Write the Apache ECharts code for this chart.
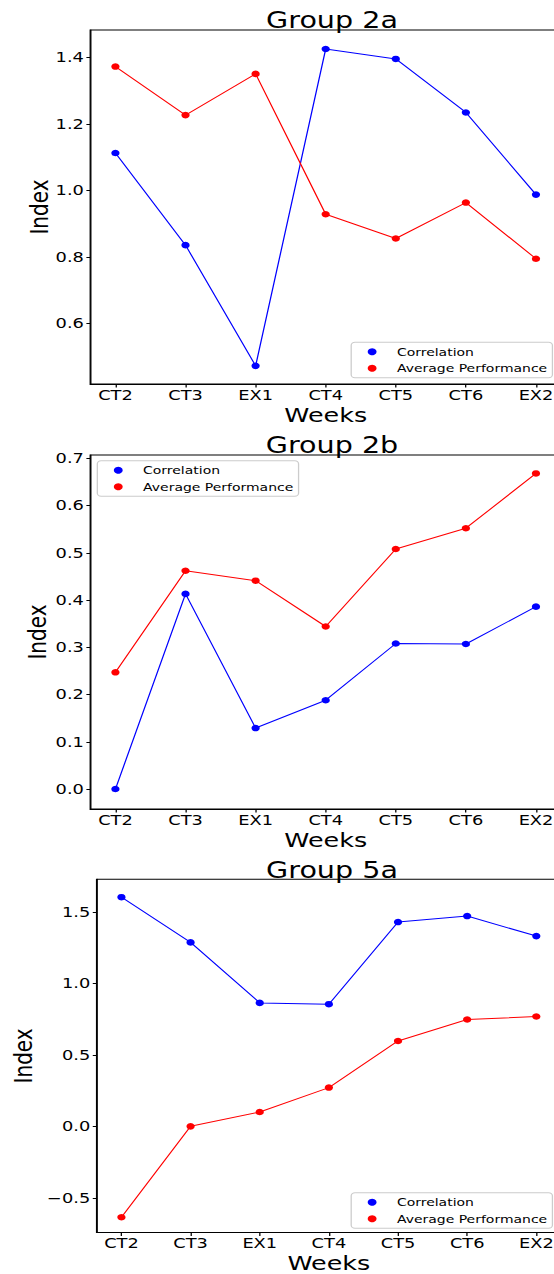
<!DOCTYPE html>
<html>
<head>
<meta charset="utf-8">
<script src="https://cdn.jsdelivr.net/npm/echarts@6/dist/echarts.min.js"></script>
<style>
  html, body { margin: 0; padding: 0; background: #fff; overflow: hidden; }
  #wrap { width: 554px; height: 1274px; overflow: hidden; position: relative; }
  #chart { width: 460px; height: 1274px; transform: scaleX(1.2706); transform-origin: 0 0; }
</style>
</head>
<body>
<div id="wrap"><div id="chart"></div></div>
<script>
const categories = ['CT2', 'CT3', 'EX1', 'CT4', 'CT5', 'CT6', 'EX2'];
const titles = ['Group 2a', 'Group 2b', 'Group 5a'];

const corr2a = [1.112, 0.835, 0.472, 1.425, 1.395, 1.234, 0.987];
const avg2a  = [1.372, 1.226, 1.350, 0.928, 0.855, 0.963, 0.794];
const corr2b = [0.000, 0.413, 0.129, 0.188, 0.308, 0.307, 0.386];
const avg2b  = [0.247, 0.462, 0.441, 0.344, 0.508, 0.552, 0.668];
const corr5a = [1.602, 1.286, 0.863, 0.854, 1.428, 1.470, 1.330];
const avg5a  = [-0.635, 0.000, 0.100, 0.271, 0.597, 0.747, 0.768];

const yTicks2a = [0.6, 0.8, 1.0, 1.2, 1.4];
const yTicks2b = [0.0, 0.1, 0.2, 0.3, 0.4, 0.5, 0.6, 0.7];
const yTicks5a = [-0.5, 0.0, 0.5, 1.0, 1.5];

const panels = [
  { title: titles[0], corr: corr2a, avg: avg2a, ticks: yTicks2a, ymin: 0.4174, ymax: 1.482, top: 30, nameGap: 30, legendTop: 342.3, legendLeft: 276.4 },
  { title: titles[1], corr: corr2b, avg: avg2b, ticks: yTicks2b, ymin: -0.0423, ymax: 0.707, top: 455, nameGap: 32, legendTop: 460.7, legendLeft: 76.6 },
  { title: titles[2], corr: corr5a, avg: avg5a, ticks: yTicks5a, ymin: -0.742, ymax: 1.727, top: 879.3, nameGap: 48, legendTop: 1192.7, legendLeft: 276.4 }
];

const FONT = 'DejaVu Sans';
const GRID_LEFT = 71;
const GRID_RIGHT = 18.3;
const GRID_H = 354;
const catIdx = categories.map((_, i) => i);

const option = {
  animation: false,
  backgroundColor: '#ffffff',
  title: panels.map(p => ({
    text: p.title,
    left: 256.3,
    textAlign: 'center',
    top: p.top - 26,
    textStyle: { fontFamily: FONT, fontSize: 22.5, fontWeight: 'normal', color: '#000' }
  })),
  legend: panels.map(p => ({
    data: ['Correlation', 'Average Performance'],
    orient: 'vertical',
    left: p.legendLeft,
    top: p.legendTop,
    icon: 'circle',
    itemWidth: 7,
    itemHeight: 7,
    itemGap: 5.5,
    padding: [4, 4, 4, 13],
    borderColor: '#cccccc',
    borderWidth: 1,
    borderRadius: 3,
    backgroundColor: 'rgba(255,255,255,0.8)',
    selectedMode: false,
    textStyle: { fontFamily: FONT, fontSize: 11, lineHeight: 11, color: '#000', padding: [0, 0, 0, 11] }
  })),
  grid: panels.map(p => ({
    left: GRID_LEFT, right: GRID_RIGHT, top: p.top, height: GRID_H,
    show: true, borderColor: '#000', borderWidth: 1, backgroundColor: 'transparent'
  })),
  xAxis: panels.map((p, i) => ({
    type: 'value', gridIndex: i, min: -0.36, max: 6.36,
    name: 'Weeks', nameLocation: 'middle', nameGap: 20.5, nameMoveOverlap: false,
    nameTextStyle: { fontFamily: FONT, fontSize: 20, color: '#000' },
    axisLine: { show: true, onZero: false, lineStyle: { color: '#000', width: 1 } },
    axisTick: { show: true, length: 3.5, customValues: catIdx, lineStyle: { color: '#000' } },
    axisLabel: {
      customValues: catIdx, margin: 4,
      fontFamily: FONT, fontSize: 14, color: '#000',
      formatter: v => categories[Math.round(v)]
    },
    splitLine: { show: false }
  })),
  yAxis: panels.map((p, i) => ({
    type: 'value', gridIndex: i, min: p.ymin, max: p.ymax,
    name: 'Index', nameLocation: 'middle', nameGap: p.nameGap, nameMoveOverlap: false,
    nameTextStyle: { fontFamily: FONT, fontSize: 20, color: '#000' },
    axisLine: { show: true, onZero: false, lineStyle: { color: '#000', width: 1 } },
    axisTick: { show: true, length: 3, customValues: p.ticks, lineStyle: { color: '#000' } },
    axisLabel: {
      customValues: p.ticks, margin: 5,
      fontFamily: FONT, fontSize: 14, color: '#000',
      formatter: v => v.toFixed(1).replace('-', '\u2212')
    },
    splitLine: { show: false }
  })),
  series: panels.flatMap((p, i) => [
    {
      name: 'Correlation', type: 'line', xAxisIndex: i, yAxisIndex: i,
      data: p.corr.map((v, k) => [k, v]),
      symbol: 'circle', symbolSize: 6.5,
      itemStyle: { color: '#0000ff' },
      lineStyle: { color: '#0000ff', width: 1 }
    },
    {
      name: 'Average Performance', type: 'line', xAxisIndex: i, yAxisIndex: i,
      data: p.avg.map((v, k) => [k, v]),
      symbol: 'circle', symbolSize: 6.5,
      itemStyle: { color: '#ff0000' },
      lineStyle: { color: '#ff0000', width: 1 }
    }
  ])
};

const chart = echarts.init(document.getElementById('chart'), null, { renderer: 'svg' });
chart.setOption(option);
</script>
</body>
</html>
